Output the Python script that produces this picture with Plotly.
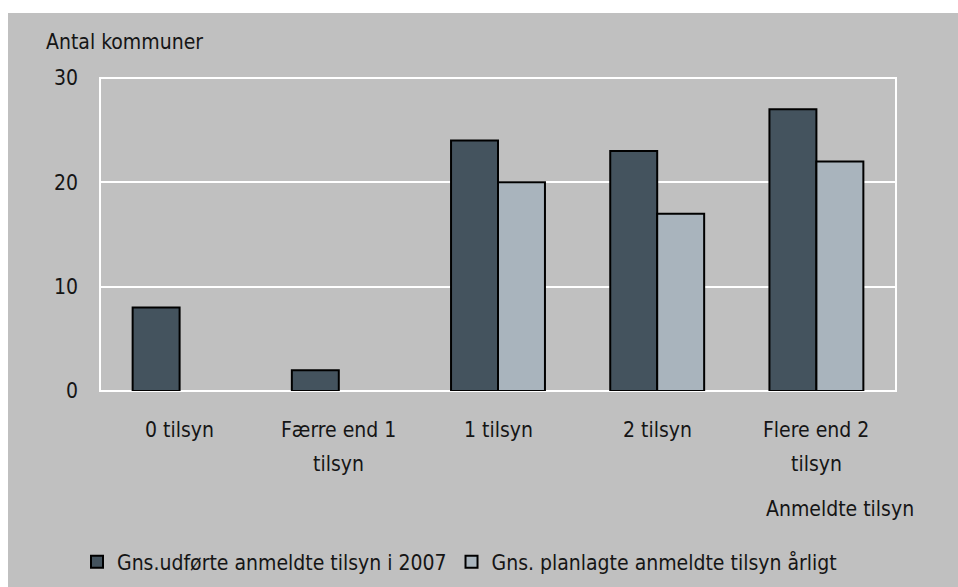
import plotly.graph_objects as go

categories = ["0 tilsyn", "Færre end 1<br>tilsyn", "1 tilsyn", "2 tilsyn", "Flere end 2<br>tilsyn"]
cat_keys = ["c0", "c1", "c2", "c3", "c4"]
udfoerte = [8, 2, 24, 23, 27]
planlagte = [None, None, 20, 17, 22]  # no bar drawn in the reference
series_names = ["Gns.udførte anmeldte tilsyn i 2007", "Gns. planlagte anmeldte tilsyn årligt"]
y_ticks = [0, 10, 20, 30]

FONT = "Liberation Sans Narrow, DejaVu Sans Condensed, sans-serif"
FS = 21
BG = "#c0c0c0"
DARK = "#44535e"
LIGHT = "#a9b4bd"
TXT = "#151515"

W, H = 958, 587
L, T = 100, 78
pw, ph = 796, 313
R, B = W - L - pw, H - T - ph

def px_x(x):
    return (x - L) / pw

def px_y(y):
    return (T + ph - y) / ph

fig = go.Figure()
fig.add_trace(go.Bar(x=cat_keys, y=udfoerte, name=series_names[0],
                     marker=dict(color=DARK, line=dict(color="#000000", width=2))))
fig.add_trace(go.Bar(x=cat_keys, y=planlagte, name=series_names[1],
                     marker=dict(color=LIGHT, line=dict(color="#000000", width=2))))

annotations = []
for key, lab in zip(cat_keys, categories):
    lines = lab.split("<br>")
    for i, ln in enumerate(lines):
        annotations.append(dict(x=key, xref="x", y=px_y(430 + 34 * i), yref="paper",
                                text=ln, showarrow=False, xanchor="center", yanchor="middle",
                                font=dict(family=FONT, size=FS, color=TXT)))
annotations.append(dict(x=px_x(44), xref="paper", y=px_y(42), yref="paper",
                        text="Antal kommuner", showarrow=False, xanchor="left", yanchor="middle",
                        font=dict(family=FONT, size=FS, color=TXT)))
annotations.append(dict(x=px_x(916), xref="paper", y=px_y(509), yref="paper",
                        text="Anmeldte tilsyn", showarrow=False, xanchor="right", yanchor="middle",
                        font=dict(family=FONT, size=FS, color=TXT)))

shapes = [
    # white strips above and left of the grey panel
    dict(type="rect", xref="paper", yref="paper", x0=-1, x1=2, y0=px_y(13), y1=3,
         fillcolor="white", line=dict(width=0), layer="below"),
    dict(type="rect", xref="paper", yref="paper", x0=-1, x1=px_x(8), y0=-3, y1=3,
         fillcolor="white", line=dict(width=0), layer="below"),
    # white frame of the plot area
    dict(type="rect", xref="paper", yref="paper", x0=0, x1=1, y0=0, y1=1,
         fillcolor="rgba(0,0,0,0)", line=dict(color="white", width=2), layer="below"),
]

fig.update_layout(
    width=W, height=H,
    margin=dict(l=L, r=R, t=T, b=B, autoexpand=False),
    paper_bgcolor=BG, plot_bgcolor=BG,
    barmode="group", bargap=0.41, bargroupgap=0,
    font=dict(family=FONT, size=FS, color=TXT),
    xaxis=dict(showticklabels=False, showgrid=False, zeroline=False, showline=False,
               range=[-0.5, 4.5]),
    yaxis=dict(range=[0, 30], tickvals=y_ticks, showgrid=True, gridcolor="white", gridwidth=1.5,
               zeroline=False, showline=False, ticks="", ticklabelstandoff=21,
               tickfont=dict(family=FONT, size=FS, color=TXT)),
    legend=dict(orientation="h", x=px_x(77), y=px_y(562), xanchor="left", yanchor="middle",
                bgcolor="rgba(0,0,0,0)", font=dict(family=FONT, size=FS, color=TXT),
                itemwidth=30, tracegroupgap=0),
    showlegend=True,
    annotations=annotations,
    shapes=shapes,
)

fig.write_html(
    "out.html",
    config={"displayModeBar": False},
    post_script="document.body.style.margin='0px';document.body.style.overflow='hidden';",
)
